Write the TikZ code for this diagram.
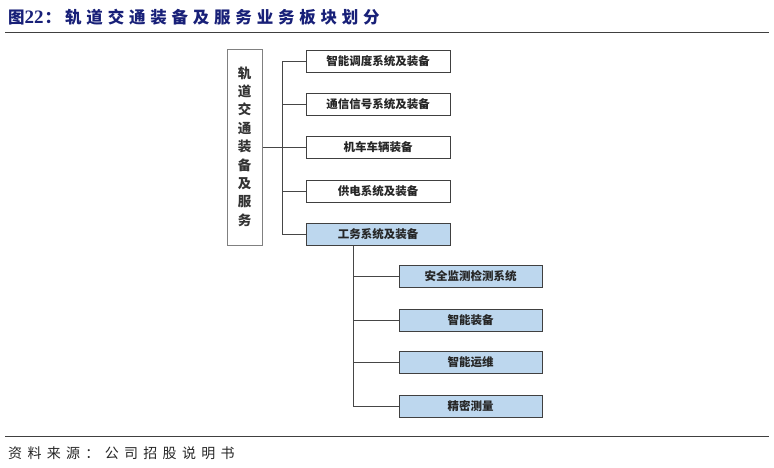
\documentclass[tikz,border=0pt]{standalone}
\usepackage{fontspec}
\setmainfont{Noto Sans CJK SC}
\newfontfamily\titlefont[LetterSpace=29]{Noto Sans CJK SC}
\newfontfamily\srcfont[LetterSpace=38]{Noto Sans CJK SC}
\newfontfamily\digitfont{Liberation Serif}
\definecolor{titleblue}{RGB}{24,32,120}
\definecolor{boxblue}{RGB}{189,215,238}
\definecolor{boxline}{RGB}{64,64,64}
\definecolor{conline}{RGB}{70,70,70}
\tikzset{
  rbox/.style={draw=boxline, line width=1pt, fill=white, minimum width=144pt, minimum height=22pt, inner sep=0pt, font=\bfseries\fontsize{11.5}{12}\selectfont, text=black!85},
  bluebox/.style={rbox, fill=boxblue},
  subbox/.style={rbox, fill=boxblue, minimum width=143pt},
  conn/.style={draw=conline, line width=0.9pt},
  rulestyle/.style={draw=black!75, line width=1pt}
}
\begin{document}
\begin{tikzpicture}[x=1pt,y=-1pt]
\useasboundingbox (0,0) rectangle (774,467);
% title
\node[anchor=west, inner sep=0pt, text=titleblue, font=\bfseries\fontsize{16.5}{18}\selectfont] (title) at (8,17) {{\titlefont 图}{\digitfont\bfseries\fontsize{19}{20}\selectfont 22}\hspace{1pt}{\titlefont ：\hspace{4pt}轨道交通装备及服务业务板块划分}};
\coordinate (r1a) at (5,32);
\coordinate (r1b) at (769,32);
\draw[rulestyle] (r1a) -- (r1b);
% left box
\node[draw=black!50, line width=1pt, fill=white, minimum width=35pt, minimum height=196pt, inner sep=0pt] (L) at (244.5,147) {};
\node[align=center, inner sep=0pt, font=\bfseries\fontsize{13.5}{18.4}\selectfont, text=black!80] (Lt) at (244.5,146.5) {轨\\道\\交\\通\\装\\备\\及\\服\\务};
% right boxes
\node[rbox] (b1) at (378,61) {智能调度系统及装备};
\node[rbox] (b2) at (378,104.5) {通信信号系统及装备};
\node[rbox] (b3) at (378,147.5) {机车车辆装备};
\node[rbox] (b4) at (378,191) {供电系统及装备};
\node[bluebox] (b5) at (378,234) {工务系统及装备};
% sub boxes
\node[subbox] (s1) at (470.5,276.5) {安全监测检测系统};
\node[subbox] (s2) at (470.5,320) {智能装备};
\node[subbox] (s3) at (470.5,362.5) {智能运维};
\node[subbox] (s4) at (470.5,406) {精密测量};
% connectors
\coordinate (tr) at (282,0);
\draw[conn] (L.east) -- (L.east -| tr);
\draw[conn] (b1.west) -- (b1.west -| tr) |- (b5.west);
\draw[conn] (b2.west) -- (b2.west -| tr);
\draw[conn] (b3.west) -- (b3.west -| tr);
\draw[conn] (b4.west) -- (b4.west -| tr);
\coordinate (s0) at ([xshift=-25pt]b5.south);
\draw[conn] (s0) |- (s4.west);
\draw[conn] (s1.west) -- (s1.west -| s0);
\draw[conn] (s2.west) -- (s2.west -| s0);
\draw[conn] (s3.west) -- (s3.west -| s0);
% bottom rule and source
\coordinate (r2a) at (5,436);
\coordinate (r2b) at (769,436);
\draw[rulestyle] (r2a) -- (r2b);
\node[anchor=west, inner sep=0pt, text=black!85, font=\fontsize{14}{16}\selectfont] (src) at (8,453) {\srcfont 资料来源：公司招股说明书};
\end{tikzpicture}
\end{document}
